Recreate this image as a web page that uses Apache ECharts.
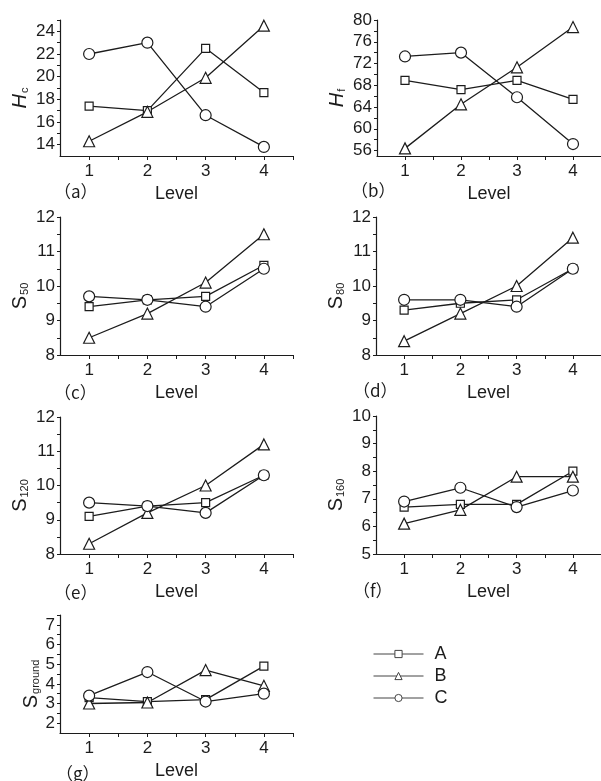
<!DOCTYPE html>
<html>
<head>
<meta charset="utf-8">
<script src="https://cdn.jsdelivr.net/npm/echarts@6.0.0/dist/echarts.min.js"></script>
<style>
  html, body { margin: 0; padding: 0; background: #fff; }
  #chart { width: 601px; height: 781px; }
</style>
</head>
<body>
<div id="chart"></div>
<script>
const levels = [1, 2, 3, 4];
const seriesNames = ["A", "B", "C"];

// (a) Hc
const hcA = [17.4, 17.0, 22.5, 18.6];
const hcB = [14.3, 16.9, 19.9, 24.5];
const hcC = [22.0, 23.0, 16.6, 13.8];
const hcTicks = [14, 16, 18, 20, 22, 24];

// (b) Hf
const hfA = [68.9, 67.2, 68.9, 65.4];
const hfB = [56.4, 64.5, 71.3, 78.7];
const hfC = [73.3, 74.0, 65.8, 57.2];
const hfTicks = [56, 60, 64, 68, 72, 76, 80];

// (c) S50
const s50A = [9.4, 9.6, 9.7, 10.6];
const s50B = [8.5, 9.2, 10.1, 11.5];
const s50C = [9.7, 9.6, 9.4, 10.5];
const s50Ticks = [8, 9, 10, 11, 12];

// (d) S80
const s80A = [9.3, 9.5, 9.6, 10.5];
const s80B = [8.4, 9.2, 10.0, 11.4];
const s80C = [9.6, 9.6, 9.4, 10.5];
const s80Ticks = [8, 9, 10, 11, 12];

// (e) S120
const s120A = [9.1, 9.4, 9.5, 10.3];
const s120B = [8.3, 9.2, 10.0, 11.2];
const s120C = [9.5, 9.4, 9.2, 10.3];
const s120Ticks = [8, 9, 10, 11, 12];

// (f) S160
const s160A = [6.7, 6.8, 6.8, 8.0];
const s160B = [6.1, 6.6, 7.8, 7.8];
const s160C = [6.9, 7.4, 6.7, 7.3];
const s160Ticks = [5, 6, 7, 8, 9, 10];

// (g) Sground
const sgA = [3.3, 3.1, 3.2, 4.9];
const sgB = [3.0, 3.05, 4.7, 3.9];
const sgC = [3.4, 4.6, 3.1, 3.5];
const sgTicks = [2, 3, 4, 5, 6, 7];

const INK = "#1c1c1c";
const FONT = "'Liberation Sans', Arial, sans-serif";
const CJK = "'Noto Sans CJK SC', sans-serif";
const symbols = { A: ["rect", 8], B: ["triangle", 11], C: ["circle", 11] };

const panels = [
  { tag: "（a）", name: "{h|H}{sub|c}", values: [hcA, hcB, hcC], ticks: hcTicks, min: 13, max: 25, minorStep: 1,
    grid: { left: 60, top: 20, width: 233, height: 136 }, nameGap: 30, tagPos: [54, 183] },
  { tag: "（b）", name: "{h|H}{sub|f}", values: [hfA, hfB, hfC], ticks: hfTicks, min: 55, max: 80, minorStep: 2,
    grid: { left: 377, top: 20, width: 233, height: 136 }, nameGap: 30, tagPos: [351, 182] },
  { tag: "（c）", name: "{s|S}{sub|50}", values: [s50A, s50B, s50C], ticks: s50Ticks, min: 8, max: 12, minorStep: 0.5,
    grid: { left: 60, top: 217, width: 233, height: 138 }, nameGap: 30, tagPos: [54, 384] },
  { tag: "（d）", name: "{s|S}{sub|80}", values: [s80A, s80B, s80C], ticks: s80Ticks, min: 8, max: 12, minorStep: 0.5,
    grid: { left: 376, top: 217, width: 233, height: 138 }, nameGap: 30, tagPos: [353, 382] },
  { tag: "（e）", name: "{s|S}{sub|120}", values: [s120A, s120B, s120C], ticks: s120Ticks, min: 8, max: 12, minorStep: 0.5,
    grid: { left: 60, top: 417, width: 233, height: 137 }, nameGap: 30, tagPos: [54, 584] },
  { tag: "（f）", name: "{s|S}{sub|160}", values: [s160A, s160B, s160C], ticks: s160Ticks, min: 5, max: 10, minorStep: 0.5,
    grid: { left: 376, top: 416, width: 233, height: 138 }, nameGap: 30, tagPos: [353, 582] },
  { tag: "（g）", name: "{s|S}{sub|ground}", values: [sgA, sgB, sgC], ticks: sgTicks, min: 1.5, max: 7.5, minorStep: 0.5,
    grid: { left: 60, top: 615, width: 233, height: 127 }, nameGap: 18, tagPos: [56, 765] },
];

function stepValues(from, to, step) {
  const out = [];
  for (let v = from; v <= to + 1e-9; v += step) out.push(Math.round(v * 100) / 100);
  return out;
}

const nameRich = {
  h: { fontFamily: FONT, fontSize: 20, fontStyle: "italic", color: INK },
  s: { fontFamily: FONT, fontSize: 20, color: INK },
  sub: { fontFamily: FONT, fontSize: 11, color: INK, verticalAlign: "bottom", padding: [0, 0, 0, 1] },
};

const grids = [];
const xAxes = [];
const yAxes = [];
const series = [];
const titles = [];

panels.forEach((p, i) => {
  grids.push({ ...p.grid });
  xAxes.push({
    type: "value",
    gridIndex: i,
    min: 0.5,
    max: 4.5,
    name: "Level",
    nameLocation: "middle",
    nameGap: 29,
    nameTextStyle: { fontFamily: FONT, fontSize: 18, color: INK },
    axisLine: { show: true, lineStyle: { color: INK, width: 1.2 } },
    axisTick: { show: true, length: 4, customValues: stepValues(1, 4.5, 0.5), lineStyle: { color: INK } },
    axisLabel: { customValues: levels, margin: 7, fontFamily: FONT, fontSize: 17, color: INK },
    splitLine: { show: false },
  });
  yAxes.push({
    type: "value",
    gridIndex: i,
    min: p.min,
    max: p.max,
    name: p.name,
    nameLocation: "middle",
    nameRotate: 90,
    nameGap: p.nameGap,
    nameTextStyle: { rich: nameRich, padding: [0, 20, 0, 0] },
    axisLine: { show: true, lineStyle: { color: INK, width: 1.2 } },
    axisTick: { show: true, length: 3, customValues: stepValues(p.ticks[0], p.max, p.minorStep), lineStyle: { color: INK } },
    axisLabel: { customValues: p.ticks, margin: 5, fontFamily: FONT, fontSize: 17, color: INK },
    splitLine: { show: false },
  });
  p.values.forEach((vals, k) => {
    const nm = seriesNames[k];
    series.push({
      name: nm,
      type: "line",
      xAxisIndex: i,
      yAxisIndex: i,
      data: levels.map((lv, j) => [lv, vals[j]]),
      symbol: symbols[nm][0],
      symbolSize: symbols[nm][1],
      showAllSymbol: true,
      lineStyle: { color: INK, width: 1.3 },
      itemStyle: { color: "#fff", borderColor: INK, borderWidth: 1.2 },
      emphasis: { disabled: true },
      animation: false,
    });
  });
  titles.push({
    text: p.tag,
    left: p.tagPos[0],
    top: p.tagPos[1],
    padding: 0,
    textStyle: { fontFamily: CJK, fontSize: 17, fontWeight: "normal", color: INK },
  });
});

const chart = echarts.init(document.getElementById("chart"), null, { renderer: "canvas" });
chart.setOption({
  backgroundColor: "#fff",
  animation: false,
  title: titles,
  grid: grids,
  xAxis: xAxes,
  yAxis: yAxes,
  legend: {
    orient: "vertical",
    left: 373,
    top: 645,
    padding: 0,
    itemWidth: 50,
    itemHeight: 9,
    itemGap: 4,
    data: seriesNames,
    lineStyle: { width: 1, color: "#444" },
    itemStyle: { borderWidth: 1, borderColor: "#444" },
    textStyle: { fontFamily: FONT, fontSize: 18, color: INK, padding: [0, 0, 0, 6] },
    selectedMode: false,
  },
  series,
});
</script>
</body>
</html>
